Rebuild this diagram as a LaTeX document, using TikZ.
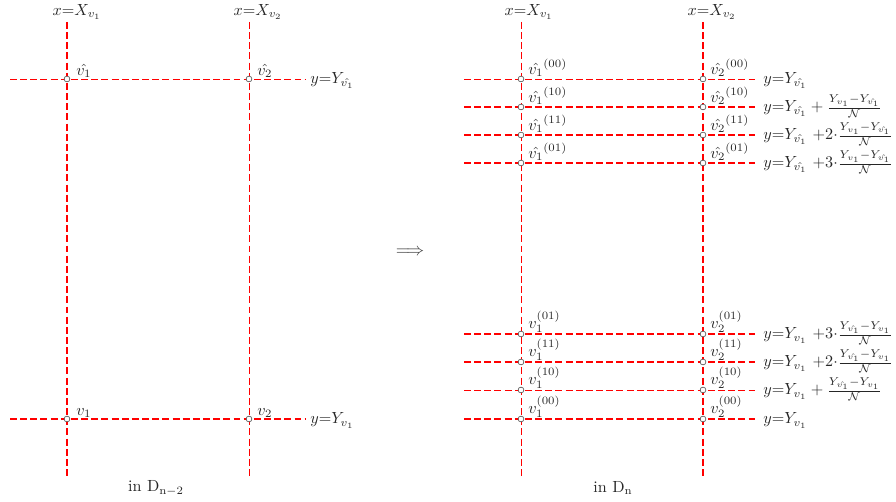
\documentclass[tikz,border=0pt]{standalone}
\usepackage{amsmath}
\begin{document}
\begin{tikzpicture}[x=0.62pt,y=-0.62pt,
  gl/.style={red, dash pattern=on 4.3pt off 2pt, line width=0.45pt},
  glw/.style={gl, line width=0.7pt},
  pt/.style={circle, draw=black!75, fill=white, inner sep=0pt, minimum size=3.6pt, line width=0.35pt},
  lab/.style={anchor=south west, inner sep=0pt, text=black!85},
  eq/.style={anchor=base west, inner sep=0pt, text=black!85},
  xlab/.style={inner sep=0pt, text=black!85},
  captext/.style={inner sep=0pt, text=black!85}]
\useasboundingbox (0,0) rectangle (896,502);

% ---------------- left panel ----------------
\coordinate (LV1t) at (67,22);  \coordinate (LV1b) at (67,476);
\coordinate (LV2t) at (249,22); \coordinate (LV2b) at (249,476);
\coordinate (LH1l) at (10,79);  \coordinate (LH1r) at (305,79);
\coordinate (LH2l) at (10,419); \coordinate (LH2r) at (305,419);
\draw[glw] (LV1t) -- (LV1b);
\draw[gl] (LV2t) -- (LV2b);
\draw[gl] (LH1l) -- (LH1r);
\draw[glw] (LH2l) -- (LH2r);

\node[xlab] (lx1) at (77,12) {$x{=}X_{v_1}$};
\node[xlab] (lx2) at (258,12) {$x{=}X_{v_2}$};

\node[pt] (la1) at (67,79) {};
\node[pt] (la2) at (249,79) {};
\node[pt] (lb1) at (67,419) {};
\node[pt] (lb2) at (249,419) {};
\node[lab] (lla1) at (76,78) {$\hat{v_1}$};
\node[lab] (lla2) at (257,78) {$\hat{v_2}$};
\node[lab] (llb1) at (76,418) {$v_1$};
\node[lab] (llb2) at (257,418) {$v_2$};

\node[eq] (ley1) at (310,84) {$y{=}Y_{\hat{v_1}}$};
\node[eq] (ley2) at (310,424) {$y{=}Y_{v_1}$};

\node[captext] (capL) at (156,488) {in $\mathrm{D_{n-2}}$};

% ---------------- arrow ----------------
\node[text=black!75, inner sep=0pt] (arr) at (410,252) {\fontsize{10.95}{13}\selectfont$\Longrightarrow$};

% ---------------- right panel ----------------
\coordinate (RV1t) at (521,22);  \coordinate (RV1b) at (521,476);
\coordinate (RV2t) at (703,22);  \coordinate (RV2b) at (703,476);
\draw[gl] (RV1t) -- (RV1b);
\draw[glw] (RV2t) -- (RV2b);

\node[xlab] (rx1) at (529,12) {$x{=}X_{v_1}$};
\node[xlab] (rx2) at (712,12) {$x{=}X_{v_2}$};

\foreach \yy/\nm/\st in {79/t1/gl,107/t2/glw,135/t3/glw,163/t4/glw,334/b1/glw,362/b2/glw,390/b3/gl,419/b4/glw}{
  \coordinate (RH\nm l) at (464,\yy);
  \coordinate (RH\nm r) at (758,\yy);
  \draw[\st] (RH\nm l) -- (RH\nm r);
}

\foreach \yy/\nm/\sx in {79/t1/00,107/t2/10,135/t3/11,163/t4/01}{
  \node[pt] (ra\nm) at (521,\yy) {};
  \node[pt] (rb\nm) at (703,\yy) {};
  \node[lab] (rla\nm) at (528,\yy-2) {$\hat{v_1}^{(\sx)}$};
  \node[lab] (rlb\nm) at (710,\yy-2) {$\hat{v_2}^{(\sx)}$};
}
\foreach \yy/\nm/\sx in {334/b1/01,362/b2/11,390/b3/10,419/b4/00}{
  \node[pt] (ra\nm) at (521,\yy) {};
  \node[pt] (rb\nm) at (703,\yy) {};
  \node[lab] (rla\nm) at (528,\yy-1) {$v_1^{(\sx)}$};
  \node[lab] (rlb\nm) at (710,\yy-1) {$v_2^{(\sx)}$};
}

\node[eq] (req1) at (763,84)  {$y{=}Y_{\hat{v_1}}$};
\node[eq] (req2) at (763,112) {$y{=}Y_{\hat{v_1}}+\frac{Y_{v_1}-Y_{\hat{v_1}}}{\mathcal{N}}$};
\node[eq] (req3) at (763,140) {$y{=}Y_{\hat{v_1}}\ {+}2{\cdot}\frac{Y_{v_1}-Y_{\hat{v_1}}}{\mathcal{N}}$};
\node[eq] (req4) at (763,168) {$y{=}Y_{\hat{v_1}}\ {+}3{\cdot}\frac{Y_{v_1}-Y_{\hat{v_1}}}{\mathcal{N}}$};
\node[eq] (req5) at (763,339) {$y{=}Y_{v_1}\ {+}3{\cdot}\frac{Y_{\hat{v_1}}-Y_{v_1}}{\mathcal{N}}$};
\node[eq] (req6) at (763,367) {$y{=}Y_{v_1}\ {+}2{\cdot}\frac{Y_{\hat{v_1}}-Y_{v_1}}{\mathcal{N}}$};
\node[eq] (req7) at (763,395) {$y{=}Y_{v_1}+\frac{Y_{\hat{v_1}}-Y_{v_1}}{\mathcal{N}}$};
\node[eq] (req8) at (763,424) {$y{=}Y_{v_1}$};

\node[captext] (capR) at (613,488) {in $\mathrm{D_n}$};
\end{tikzpicture}
\end{document}
